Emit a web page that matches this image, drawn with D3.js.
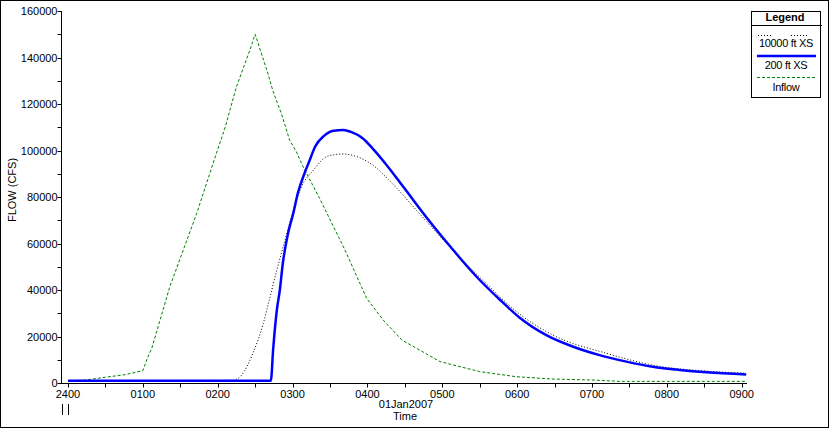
<html>
<script src='https://d3js.org/d3.v7.min.js'></script>
<style>
body { margin:0; }
text { font-family: "Liberation Sans", Arial, sans-serif; }
</style>
<body>
<svg width=829 height=428></svg>
<script>

// hours after 2400 and flow (cfs)
var inflowHours = [0,0.25,0.5,0.75,1.0,1.06,1.12,1.36,1.72,1.96,2.1,2.25,2.43,2.5,2.67,2.74,2.85,2.96,3.05,3.14,3.36,3.7,3.99,4.21,4.46,4.97,5.5,5.99,6.48,6.99,7.39,9.06];
var inflowFlow  = [1000,1300,2500,3500,5300,10700,15000,41400,73000,96600,110000,127400,143200,150000,133200,125300,116000,104500,99500,93000,79500,57200,36400,27100,18500,9200,4900,2700,1700,1300,700,700];

var xs200Hours = [0,2.71,2.74,2.79,2.83,2.87,2.94,3.01,3.07,3.16,3.23,3.3,3.42,3.55,3.68,3.78,3.94,4.08,4.25,4.43,4.61,4.79,4.97,5.12,5.23,5.5,5.77,6.03,6.39,6.75,7.1,7.46,7.81,8.17,8.53,9.06];
var xs200Flow  = [1000,1000,14200,31400,40000,51500,64400,73000,81600,90200,95900,101600,106300,108500,108800,108000,105200,100500,94000,86500,78800,71200,64000,58200,54000,44300,35800,28200,20600,15600,12000,9200,7000,5600,4600,3700];

var xs10000Hours = [0,2.2,2.32,2.47,2.61,2.7,2.79,2.9,3.01,3.12,3.28,3.45,3.56,3.68,3.8,3.92,4.1,4.28,4.46,4.61,4.79,4.97,5.1,5.5,6.08,6.48,7.19,7.86,8.5,9.06];
var xs10000Flow  = [1000,1200,3400,12800,25700,37100,48600,61500,74400,84400,91600,97300,98200,98500,97900,96600,93000,87500,81400,75900,69500,63000,58500,45500,28500,20600,12800,7400,5200,4200];

var xTickLabels = ["2400","0100","0200","0300","0400","0500","0600","0700","0800","0900"];
var legendNames = ["10000 ft XS","200 ft XS","Inflow"];

var svg = d3.select("svg");

// outer frame
svg.append("rect").attr("x",0.5).attr("y",0.5).attr("width",828).attr("height",427)
.style("fill","none").style("stroke","black");

// scales
var x = d3.scaleLinear().domain([0,9]).range([68,741.7]);
var y = d3.scaleLinear().domain([0,160000]).range([383,11]);

// y axis
var yAxis = svg.append("g").attr("transform","translate(61.5,0)");
yAxis.append("line").attr("y1",y(160000)).attr("y2",y(0)).style("stroke","black");
yAxis.selectAll(".yt").data(d3.range(0,160001,10000)).enter()
.append("line")
.attr("x1",-4).attr("x2",0)
.attr("y1",function(d){return Math.round(y(d))+0.5;})
.attr("y2",function(d){return Math.round(y(d))+0.5;})
.style("stroke","black");
yAxis.selectAll(".yl").data(d3.range(0,160001,20000)).enter()
.append("text")
.attr("x",-4).attr("y",function(d){return y(d)+4;})
.attr("text-anchor","end").attr("font-size","11px")
.text(function(d){return d;});

// x axis
var xAxis = svg.append("g").attr("transform","translate(0,383.5)");
xAxis.append("line").attr("x1",61).attr("x2",747).style("stroke","black");
xAxis.selectAll(".xt").data(d3.range(0,9.01,0.5)).enter()
.append("line")
.attr("x1",function(d){return Math.round(x(d))+0.5;})
.attr("x2",function(d){return Math.round(x(d))+0.5;})
.attr("y1",0).attr("y2",4)
.style("stroke","black");
xAxis.selectAll(".xl").data(xTickLabels).enter()
.append("text")
.attr("x",function(d,i){return x(i);}).attr("y",14)
.attr("text-anchor","middle").attr("font-size","11px")
.text(function(d){return d;});

// day markers under 2400
svg.append("line").attr("x1",62.5).attr("x2",62.5).attr("y1",404).attr("y2",415).style("stroke","black");
svg.append("line").attr("x1",68.5).attr("x2",68.5).attr("y1",404).attr("y2",415).style("stroke","black");

svg.append("text").attr("x",406).attr("y",408).attr("text-anchor","middle")
.attr("font-size","11px").text("01Jan2007");
svg.append("text").attr("x",405).attr("y",420).attr("text-anchor","middle")
.attr("font-size","11px").text("Time");

svg.append("text")
.attr("transform","translate(16,190) rotate(-90)")
.attr("text-anchor","middle").attr("font-size","11px")
.text("FLOW (CFS)");

// lines
function pts(hrs, vals) { return hrs.map(function(h,i){return [h, vals[i]];}); }

var straight = d3.line().x(function(d){return x(d[0]);}).y(function(d){return y(d[1]);});
var smooth = d3.line().x(function(d){return x(d[0]);}).y(function(d){return y(d[1]);}).curve(d3.curveMonotoneX);

svg.append("path").attr("d",straight(pts(inflowHours,inflowFlow)))
.style("fill","none").style("stroke","#008000").style("stroke-width",1)
.style("stroke-dasharray","3,2");

svg.append("path").attr("d",smooth(pts(xs10000Hours,xs10000Flow)))
.style("fill","none").style("stroke","black").style("stroke-width",1)
.style("stroke-dasharray","1,2");

svg.append("path").attr("d",smooth(pts(xs200Hours,xs200Flow)))
.style("fill","none").style("stroke","#0000ff").style("stroke-width",2.5);

// legend
var lg = svg.append("g");
lg.append("rect").attr("x",751.5).attr("y",11.5).attr("width",69).attr("height",86)
.style("fill","white").style("stroke","black");
lg.append("line").attr("x1",751).attr("x2",822).attr("y1",25.5).attr("y2",25.5).style("stroke","black");
lg.append("text").attr("x",785).attr("y",21).attr("text-anchor","middle")
.attr("font-size","11px").attr("font-weight","bold").text("Legend");

lg.append("line").attr("x1",758).attr("x2",773).attr("y1",35.5).attr("y2",35.5)
.style("stroke","black").style("stroke-dasharray","1,2");
lg.append("line").attr("x1",791).attr("x2",807).attr("y1",35.5).attr("y2",35.5)
.style("stroke","black").style("stroke-dasharray","1,2");
lg.append("line").attr("x1",757).attr("x2",816).attr("y1",56).attr("y2",56)
.style("stroke","#0000ff").style("stroke-width",2.5);
lg.append("line").attr("x1",757).attr("x2",816).attr("y1",77.5).attr("y2",77.5)
.style("stroke","#008000").style("stroke-dasharray","3,2");

lg.selectAll(".ln").data(legendNames).enter()
.append("text")
.attr("x",786).attr("y",function(d,i){return 47 + i*22;})
.attr("text-anchor","middle").attr("font-size","11px").attr("letter-spacing","-0.3px")
.text(function(d){return d;});

</script>
</body>
</html>
